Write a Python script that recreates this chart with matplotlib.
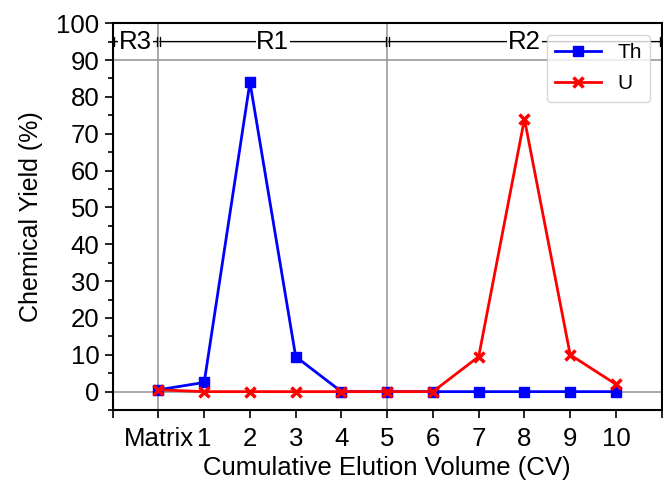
import matplotlib.pyplot as plt
from matplotlib.ticker import MultipleLocator

plt.rcParams['font.family'] = ['Liberation Sans', 'DejaVu Sans']

# elution steps (0 = Matrix)
steps = [0, 1, 2, 3, 4, 5, 6, 7, 8, 9, 10]
tick_labels = ['', 'Matrix', '1', '2', '3', '4', '5', '6', '7', '8', '9', '10', '']
th_yield = [0.5, 2.5, 84, 9.5, 0, 0, 0, 0, 0, 0, 0]
u_yield = [0.5, 0, 0, 0, 0, 0, 0, 9.5, 74, 10, 2]

# resin regions: (label, start, end)
regions = [('R3', -1, 0), ('R1', 0, 5), ('R2', 5, 11)]

fig = plt.figure(figsize=(6.63, 4.83), dpi=100)
ax = fig.add_axes([0.170, 0.151, 0.828, 0.801])

# reference lines
for yv in [0, 90]:
    ax.axhline(yv, color='#999999', lw=1.2, zorder=0)
for xv in [0, 5]:
    ax.axvline(xv, color='#999999', lw=1.2, zorder=0)

ax.plot(steps, th_yield, color='blue', marker='s', ms=6.5, lw=2, label='Th', zorder=3)
ax.plot(steps, u_yield, color='red', marker='x', ms=7, mew=2.5, lw=2, label='U', zorder=4)

# region arrows at top
for name, x0, x1 in regions:
    ax.annotate('', xy=(x0, 95), xytext=(x1, 95),
                arrowprops=dict(arrowstyle='|-|, widthA=0.3, widthB=0.3',
                                color='black', lw=1, shrinkA=1, shrinkB=1))
    ax.text((x0 + x1) / 2, 95, name, ha='center', va='center', fontsize=18.5,
            bbox=dict(facecolor='white', edgecolor='none', pad=0.5))

ax.set_xlim(-1, 11)
ax.set_ylim(-5, 100)
ax.set_xticks(range(-1, 12))
ax.set_xticklabels(tick_labels)
ax.yaxis.set_major_locator(MultipleLocator(10))
ax.yaxis.set_minor_locator(MultipleLocator(5))
ax.tick_params(axis='both', which='major', direction='out', length=6, width=1.2, labelsize=18.5)
ax.tick_params(axis='x', which='major', pad=6)
ax.tick_params(axis='y', which='minor', direction='out', length=3.5, width=1.2)
for sp in ax.spines.values():
    sp.set_linewidth(1.5)

ax.set_xlabel('Cumulative Elution Volume (CV)', fontsize=18.5, labelpad=4)
ax.set_ylabel('Chemical Yield (%)', fontsize=18, labelpad=10)

ax.legend(loc='upper right', fontsize=15, borderaxespad=0.55, handlelength=2.2,
          labelspacing=0.6)

plt.savefig('out.png', dpi=100)
